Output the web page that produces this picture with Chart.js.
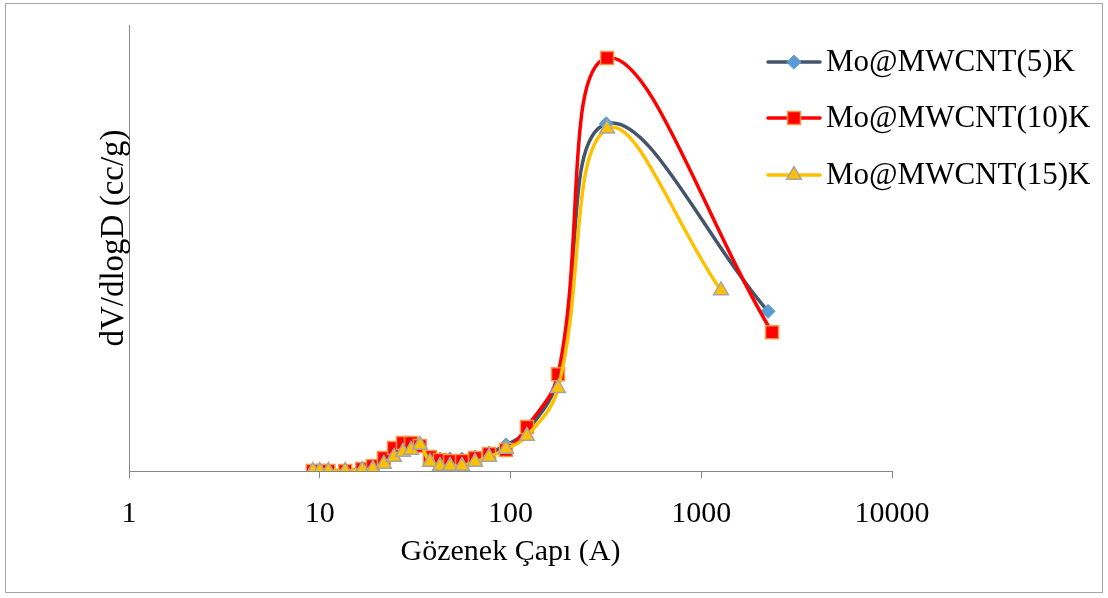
<!DOCTYPE html>
<html>
<head>
<meta charset="utf-8">
<script src="https://cdn.jsdelivr.net/npm/chart.js@4/dist/chart.umd.min.js"></script>
<style>
  html, body { margin: 0; padding: 0; background: #fff; }
  #wrap { position: relative; width: 1108px; height: 598px; }
</style>
</head>
<body>
<div id="wrap"><canvas id="poreChart" width="1108" height="598"></canvas></div>
<script>
// gözenek çapı (A) ve dV/dlogD (cc/g) değerleri
var poreD5  = [9.2, 10.0, 11.1, 13.6, 16.7, 19.0, 21.7, 24.5, 27.3, 30.1, 33.5, 37.8, 42.7, 48.2, 55.7, 65.2, 77.2, 94.7, 122, 177.5, 318, 2240];
var dv5     = [0, 0, 0, 0, 0.001, 0.004, 0.011, 0.021, 0.026, 0.027, 0.027, 0.013, 0.012, 0.012, 0.012, 0.014, 0.018, 0.026, 0.040, 0.093, 0.348, 0.160];

var poreD10 = [9.2, 10.0, 11.1, 13.6, 16.7, 19.0, 21.7, 24.5, 27.3, 30.1, 33.5, 37.8, 42.7, 48.2, 55.7, 65.2, 77.2, 94.7, 122, 177.5, 321, 2350];
var dv10    = [0, 0, 0, 0, 0.002, 0.005, 0.013, 0.023, 0.028, 0.028, 0.025, 0.014, 0.011, 0.010, 0.010, 0.013, 0.017, 0.021, 0.044, 0.097, 0.414, 0.139];

var poreD15 = [9.2, 10.0, 11.1, 13.6, 16.7, 19.0, 21.7, 24.5, 27.3, 30.1, 33.5, 37.8, 42.7, 48.2, 55.7, 65.2, 77.2, 94.7, 122, 177.5, 321, 1269];
var dv15    = [0, 0, 0, 0, 0.001, 0.002, 0.007, 0.014, 0.019, 0.021, 0.026, 0.009, 0.005, 0.005, 0.005, 0.009, 0.014, 0.022, 0.035, 0.083, 0.343, 0.181];

var seriesNames = ['Mo@MWCNT(5)K', 'Mo@MWCNT(10)K', 'Mo@MWCNT(15)K'];
var xTicks = [1, 10, 100, 1000, 10000];
var yTitle = 'dV/dlogD (cc/g)';

var serif = "'Liberation Serif', 'Times New Roman', serif";

function toPoints(xs, ys) {
  return xs.map(function (x, i) { return { x: x, y: ys[i] }; });
}

// dış çerçeve ve dikey eksen başlığı
var framePlugin = {
  id: 'frame',
  beforeDraw: function (chart) {
    var ctx = chart.ctx;
    ctx.save();
    ctx.strokeStyle = '#a6a6a6';
    ctx.lineWidth = 1;
    ctx.strokeRect(5.5, 3.5, 1097, 589);
    ctx.restore();
  },
  afterDraw: function (chart) {
    var ctx = chart.ctx;
    var area = chart.chartArea;
    ctx.save();
    ctx.translate(area.left - 15, (area.top + area.bottom) / 2 - 10);
    ctx.rotate(-Math.PI / 2);
    ctx.fillStyle = '#000';
    ctx.font = '33px ' + serif;
    ctx.textAlign = 'center';
    ctx.textBaseline = 'middle';
    ctx.fillText(yTitle, 0, 0);
    ctx.restore();
  }
};

// grafik alanının üstüne binen sağ taraftaki lejant
var sideLegend = {
  id: 'sideLegend',
  afterDraw: function (chart) {
    var ctx = chart.ctx;
    var rows = [62, 118, 175];
    chart.data.datasets.forEach(function (ds, i) {
      var y = rows[i];
      ctx.save();
      ctx.strokeStyle = ds.borderColor;
      ctx.lineWidth = ds.borderWidth;
      ctx.lineCap = 'round';
      ctx.beginPath();
      ctx.moveTo(768, y);
      ctx.lineTo(820, y);
      ctx.stroke();
      ctx.fillStyle = ds.pointBackgroundColor;
      ctx.strokeStyle = ds.pointBorderColor;
      ctx.lineWidth = ds.pointBorderWidth;
      Chart.helpers.drawPoint(ctx, {
        pointStyle: ds.pointStyle,
        radius: ds.pointRadius,
        rotation: 0,
        borderWidth: ds.pointBorderWidth
      }, 794, y);
      ctx.fillStyle = '#000';
      ctx.font = '31px ' + serif;
      ctx.textBaseline = 'middle';
      ctx.textAlign = 'left';
      ctx.fillText(ds.label, 826, y + 1);
      ctx.restore();
    });
  }
};

new Chart(document.getElementById('poreChart'), {
  type: 'line',
  data: {
    datasets: [{
      label: seriesNames[0],
      data: toPoints(poreD5, dv5),
      borderColor: '#44546a',
      borderWidth: 3.5,
      pointStyle: 'rectRot',
      pointRadius: 7,
      pointBackgroundColor: '#5b9bd5',
      pointBorderColor: '#5b9bd5',
      pointBorderWidth: 1,
      tension: 0.4,
      order: 3
    }, {
      label: seriesNames[1],
      data: toPoints(poreD10, dv10),
      borderColor: '#ff0000',
      borderWidth: 3.5,
      pointStyle: 'rect',
      pointRadius: 9.2,
      pointBackgroundColor: '#ff0000',
      pointBorderColor: '#f79646',
      pointBorderWidth: 1.5,
      tension: 0.4,
      order: 2
    }, {
      label: seriesNames[2],
      data: toPoints(poreD15, dv15),
      borderColor: '#ffc000',
      borderWidth: 3.5,
      pointStyle: 'triangle',
      pointRadius: 8.5,
      pointBackgroundColor: '#ffc000',
      pointBorderColor: '#a5a5a5',
      pointBorderWidth: 1.5,
      tension: 0.4,
      order: 1
    }]
  },
  options: {
    responsive: false,
    animation: false,
    events: [],
    layout: { padding: { left: 129, top: 25, right: 216, bottom: 28 } },
    plugins: {
      legend: { display: false },
      tooltip: { enabled: false }
    },
    scales: {
      x: {
        type: 'logarithmic',
        min: 1,
        max: 10000,
        afterBuildTicks: function (scale) {
          scale.ticks = xTicks.map(function (v) { return { value: v }; });
        },
        grid: { drawOnChartArea: false, drawTicks: true, tickLength: 7, color: '#868686' },
        border: { display: true, color: '#868686', width: 1 },
        ticks: {
          autoSkip: false,
          maxRotation: 0,
          padding: 18,
          color: '#000',
          font: { family: serif, size: 30 },
          callback: function (v) { return String(v); }
        },
        title: {
          display: true,
          text: 'Gözenek Çapı (A)',
          color: '#000',
          font: { family: serif, size: 30 },
          padding: { top: -16, bottom: 0 }
        }
      },
      y: {
        min: 0,
        max: 0.447,
        grid: { display: false, drawTicks: false },
        border: { display: true, color: '#868686', width: 1 },
        ticks: { display: false }
      }
    }
  },
  plugins: [framePlugin, sideLegend]
});
</script>
</body>
</html>
